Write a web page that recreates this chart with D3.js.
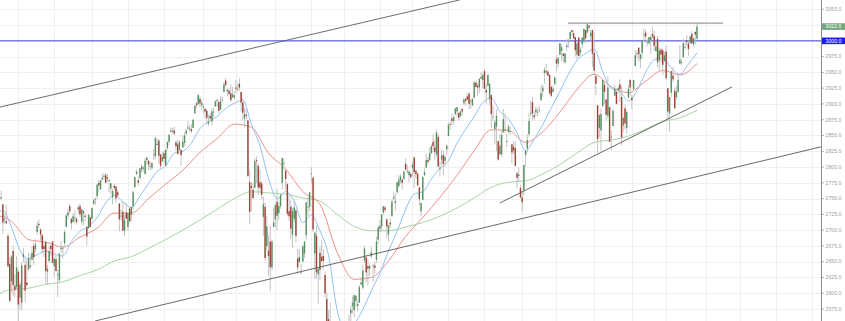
<!DOCTYPE html>
<html>
<head>
<meta charset="utf-8">
<script src="https://cdn.jsdelivr.net/npm/d3@7"></script>
<style>
  body { margin: 0; background: #fff; }
  svg { display: block; }
</style>
</head>
<body>
<svg id="chart"></svg>
<script>
    // daily candles, one small array per month: [open, high, low, close]
    var mar2018 = [[2792,2801,2758,2765],[2774,2777,2744,2750],[2754,2763,2741,2747],[2750,2762,2749,2752],[2741,2741,2694,2712],[2716,2725,2710,2717],[2714,2739,2709,2711],[2691,2695,2641,2643],[2646,2657,2585,2588],[2619,2661,2601,2658],[2667,2675,2596,2613],[2612,2630,2594,2605],[2610,2659,2606,2641]]
    var apr2018 = [[2634,2638,2553,2582],[2593,2619,2575,2614],[2585,2649,2573,2644],[2657,2672,2649,2662],[2645,2656,2586,2604],[2617,2653,2610,2613],[2638,2665,2635,2656],[2644,2662,2639,2642],[2653,2674,2653,2664],[2675,2680,2645,2657],[2670,2686,2665,2677],[2697,2713,2693,2707],[2710,2717,2703,2708],[2701,2703,2684,2693],[2692,2694,2663,2670],[2675,2683,2657,2670],[2681,2683,2615,2635],[2634,2645,2613,2639],[2651,2676,2648,2667],[2675,2677,2659,2670],[2682,2682,2648,2648]]
    var may2018 = [[2643,2655,2625,2655],[2654,2661,2635,2635],[2628,2637,2594,2630],[2621,2664,2616,2663],[2670,2683,2664,2672],[2671,2676,2655,2672],[2679,2701,2675,2697],[2705,2726,2705,2723],[2723,2733,2717,2728],[2738,2742,2726,2730],[2718,2719,2701,2711],[2713,2727,2712,2722],[2719,2731,2711,2720],[2718,2720,2709,2713],[2736,2740,2726,2733],[2738,2742,2721,2725],[2713,2734,2709,2733],[2730,2731,2707,2727],[2723,2727,2714,2721],[2705,2707,2676,2690],[2703,2726,2702,2724],[2720,2723,2704,2705]]
    var jun2018 = [[2718,2736,2718,2735],[2742,2750,2740,2747],[2748,2752,2740,2749],[2754,2773,2749,2772],[2775,2779,2760,2771],[2765,2779,2764,2779],[2780,2790,2780,2783],[2785,2790,2780,2786],[2787,2791,2774,2775],[2784,2789,2776,2782],[2778,2780,2760,2780],[2766,2775,2757,2774],[2752,2765,2741,2762],[2770,2774,2763,2767],[2769,2770,2744,2750],[2760,2764,2752,2755],[2742,2743,2698,2717],[2722,2733,2716,2723],[2729,2746,2699,2699],[2699,2724,2691,2716],[2728,2743,2718,2718]]
    var jul2018 = [[2705,2727,2699,2727],[2734,2736,2713,2714],[2724,2737,2714,2737],[2738,2763,2733,2760],[2768,2784,2768,2784],[2789,2796,2787,2793],[2779,2785,2770,2775],[2783,2799,2781,2798],[2796,2804,2791,2801],[2799,2801,2793,2798],[2789,2814,2788,2810],[2811,2816,2805,2815],[2810,2810,2795,2804],[2801,2808,2795,2802],[2799,2808,2795,2806],[2820,2829,2811,2820],[2817,2848,2812,2846],[2835,2845,2835,2837],[2842,2844,2805,2818],[2820,2821,2798,2802],[2809,2824,2808,2816]]
    var aug2018 = [[2822,2826,2805,2813],[2802,2829,2801,2827],[2830,2840,2827,2840],[2840,2853,2835,2851],[2856,2863,2855,2858],[2856,2862,2853,2857],[2858,2864,2851,2853],[2839,2842,2826,2833],[2836,2843,2819,2821],[2827,2843,2826,2840],[2827,2828,2802,2819],[2831,2850,2831,2840],[2838,2855,2833,2850],[2853,2860,2851,2858],[2861,2873,2859,2863],[2860,2867,2856,2861],[2860,2868,2854,2857],[2862,2876,2862,2875],[2885,2898,2885,2897],[2901,2903,2893,2898],[2900,2916,2898,2914],[2908,2912,2895,2901],[2898,2907,2891,2902]]
    var sep2018 = [[2896,2900,2885,2896],[2892,2894,2877,2888],[2889,2892,2867,2878],[2869,2883,2865,2872],[2881,2886,2873,2877],[2872,2893,2866,2888],[2888,2894,2879,2888],[2896,2906,2895,2904],[2906,2908,2896,2905],[2903,2905,2885,2889],[2891,2912,2890,2904],[2906,2912,2903,2907],[2919,2935,2919,2931],[2937,2941,2927,2930],[2922,2926,2912,2920],[2921,2924,2913,2916],[2917,2931,2903,2906],[2911,2927,2909,2915],[2910,2920,2907,2914]]
    var oct2018 = [[2926,2938,2917,2924],[2924,2932,2920,2924],[2932,2940,2921,2926],[2919,2919,2888,2902],[2902,2910,2874,2886],[2877,2894,2863,2884],[2883,2894,2875,2881],[2874,2875,2784,2786],[2776,2795,2710,2729],[2770,2776,2730,2767],[2764,2775,2749,2751],[2767,2814,2767,2809],[2811,2817,2775,2809],[2802,2806,2756,2768],[2776,2797,2760,2767],[2774,2778,2749,2756],[2721,2753,2691,2741],[2737,2743,2651,2656],[2675,2722,2667,2706],[2667,2692,2628,2659],[2682,2707,2603,2641],[2641,2685,2636,2682],[2705,2736,2705,2712]]
    var nov2018 = [[2717,2741,2705,2740],[2745,2766,2700,2723],[2727,2744,2716,2738],[2738,2757,2734,2756],[2775,2815,2765,2814],[2806,2814,2795,2806],[2794,2797,2764,2781],[2773,2776,2722,2726],[2730,2755,2714,2722],[2737,2747,2686,2702],[2693,2735,2671,2730],[2718,2746,2712,2736],[2731,2733,2681,2691],[2655,2670,2631,2641],[2657,2670,2649,2650],[2633,2647,2631,2633],[2650,2677,2650,2674],[2663,2683,2656,2682],[2692,2744,2685,2744],[2736,2753,2723,2737],[2737,2760,2730,2760]]
    var dec2018 = [[2790,2800,2774,2790],[2783,2785,2697,2701],[2663,2696,2622,2696],[2691,2708,2623,2633],[2630,2640,2583,2638],[2664,2674,2621,2637],[2658,2685,2650,2651],[2659,2670,2637,2651],[2629,2635,2593,2600],[2591,2601,2530,2546],[2559,2573,2528,2546],[2547,2585,2488,2507],[2497,2510,2441,2467],[2466,2504,2409,2417],[2401,2410,2351,2351],[2363,2467,2347,2468],[2442,2489,2398,2489],[2499,2520,2473,2486],[2498,2509,2483,2507]]
    var jan2019 = [[2477,2519,2468,2510],[2492,2493,2444,2448],[2475,2538,2474,2532],[2535,2566,2525,2550],[2568,2580,2548,2574],[2580,2595,2568,2585],[2573,2597,2562,2597],[2588,2597,2578,2596],[2580,2589,2571,2583],[2585,2613,2585,2610],[2614,2625,2613,2617],[2609,2645,2606,2636],[2652,2675,2648,2671],[2657,2657,2617,2633],[2643,2653,2612,2639],[2639,2647,2627,2643],[2658,2673,2657,2665],[2645,2645,2618,2644],[2644,2650,2631,2640],[2653,2690,2648,2682],[2685,2708,2678,2704]]
    var feb2019 = [[2702,2716,2697,2707],[2706,2724,2698,2725],[2728,2738,2724,2738],[2736,2739,2728,2732],[2717,2719,2687,2706],[2693,2708,2682,2708],[2712,2719,2703,2709],[2722,2749,2722,2745],[2750,2761,2748,2753],[2743,2758,2731,2746],[2760,2775,2757,2776],[2770,2787,2767,2780],[2779,2789,2774,2785],[2780,2781,2764,2775],[2781,2793,2780,2793],[2805,2814,2794,2796],[2793,2803,2789,2794],[2787,2796,2776,2793],[2789,2792,2781,2784]]
    var mar2019 = [[2799,2809,2785,2804],[2815,2817,2767,2792],[2794,2796,2782,2789],[2790,2790,2770,2771],[2768,2768,2739,2749],[2730,2744,2722,2743],[2748,2785,2747,2784],[2787,2798,2786,2792],[2799,2821,2799,2811],[2811,2816,2804,2808],[2811,2831,2810,2822],[2822,2836,2821,2833],[2840,2852,2823,2833],[2831,2843,2812,2824],[2820,2860,2817,2855],[2848,2852,2800,2801],[2797,2809,2785,2799],[2812,2829,2803,2818],[2819,2826,2787,2805],[2810,2820,2801,2816],[2828,2836,2820,2834]]
    var apr2019 = [[2849,2870,2849,2867],[2868,2872,2859,2867],[2877,2885,2866,2873],[2873,2882,2867,2879],[2884,2893,2882,2893],[2888,2895,2880,2895],[2886,2886,2873,2878],[2881,2889,2879,2888],[2892,2893,2882,2888],[2901,2910,2899,2907],[2908,2909,2897,2905],[2912,2917,2905,2907],[2916,2919,2892,2900],[2905,2908,2892,2905],[2898,2909,2896,2908],[2910,2936,2909,2934],[2934,2937,2926,2927],[2929,2933,2913,2926],[2926,2940,2917,2940],[2940,2950,2939,2943],[2938,2948,2925,2946]]
    var may2019 = [[2952,2955,2923,2924],[2922,2932,2900,2918],[2929,2947,2929,2946],[2908,2933,2898,2932],[2914,2914,2862,2884],[2880,2898,2873,2880],[2860,2875,2836,2871],[2864,2892,2825,2881],[2841,2841,2810,2812],[2820,2852,2820,2834],[2820,2858,2816,2851],[2855,2892,2855,2876],[2858,2885,2854,2860],[2841,2853,2831,2840],[2855,2868,2855,2864],[2856,2865,2851,2857],[2836,2836,2806,2823],[2832,2841,2820,2826],[2830,2841,2801,2802],[2790,2792,2766,2783],[2786,2799,2777,2788],[2767,2772,2750,2752]]
    var jun2019 = [[2752,2763,2729,2744],[2763,2804,2755,2803],[2819,2827,2801,2826],[2829,2852,2823,2843],[2852,2885,2848,2873],[2886,2905,2880,2886],[2903,2911,2875,2885],[2882,2888,2874,2879],[2887,2896,2881,2891],[2887,2894,2880,2887],[2889,2897,2887,2890],[2906,2930,2905,2917],[2920,2931,2911,2926],[2949,2958,2932,2954],[2952,2964,2946,2950],[2951,2954,2944,2945],[2946,2947,2914,2917],[2927,2929,2911,2913],[2919,2929,2918,2924],[2932,2943,2929,2942]]
    var jul2019 = [[2971,2977,2952,2964],[2964,2974,2958,2973],[2978,2996,2978,2996],[2984,2994,2968,2990],[2980,2980,2966,2976],[2966,2981,2964,2980],[2990,3003,2984,2993],[2999,3003,2989,3000],[3003,3014,3001,3014],[3017,3017,3008,3014],[3012,3016,3003,3004],[3006,3006,2975,2985],[2978,2998,2970,2996],[3005,3006,2975,2976],[2982,2990,2977,2986],[2995,3006,2988,3005],[2999,3019,2997,3019],[3017,3017,2996,3004],[3013,3028,3012,3026],[3024,3026,3015,3021],[3007,3017,3000,3013],[3017,3018,2958,2980]]
    var aug2019 = [[2981,3013,2945,2953],[2944,2946,2914,2932],[2898,2898,2822,2844],[2862,2884,2847,2882],[2858,2892,2825,2884],[2897,2939,2895,2938],[2930,2935,2900,2919],[2907,2907,2874,2883],[2881,2944,2877,2926],[2895,2895,2840,2840],[2847,2857,2826,2848],[2865,2893,2865,2889],[2913,2931,2913,2924],[2919,2924,2899,2900],[2922,2928,2917,2925],[2931,2939,2904,2923],[2911,2928,2834,2847],[2866,2879,2856,2878],[2893,2899,2860,2869],[2862,2890,2853,2887],[2910,2930,2910,2924],[2938,2940,2913,2926]]
    var sep2019 = [[2910,2914,2891,2906],[2924,2938,2921,2938],[2960,2985,2960,2977],[2980,2985,2973,2979],[2989,2990,2967,2979],[2971,2979,2957,2979],[2981,3001,2972,3001],[3010,3020,3000,3010],[3013,3018,3002,3007],[2997,3003,2991,2998],[2996,3006,2994,3006],[3001,3008,2979,3006],[3011,3022,3004,3007],[3008,3016,2984,2992],[2984,2999,2983,2991],[3003,3008,2958,2966],[2969,2989,2953,2985],[2986,2989,2965,2978],[2985,2988,2946,2962],[2968,2983,2967,2977]]
    var oct2019 = [[2983,2993,2938,2941],[2925,2925,2874,2888],[2885,2911,2856,2911],[2918,2953,2911,2952],[2945,2959,2935,2939],[2921,2926,2892,2893],[2911,2929,2907,2919],[2919,2949,2918,2938],[2964,2993,2963,2970],[2966,2972,2962,2966],[2974,3003,2974,2996],[2990,2998,2986,2990],[3001,3009,2991,2998],[2996,3000,2976,2987],[2997,3008,2995,3007],[3011,3015,2995,2996],[2995,3004,2991,3004],[3014,3016,2994,3010],[3003.3,3027.4,3001.9,3022.6]]

    // moving averages (blue every 5 bars, red / green every 10 bars)
    var ema20 = [2726,2731,2705,2668,2655,2661,2667,2662,2659,2682,2698,2706,2720,2743,2755,2745,2736,2754,2774,2793,2802,2822,2825,2838,2861,2872,2880,2893,2901,2906,2868,2834,2782,2750,2761,2746,2712,2724,2699,2660,2574,2540,2551,2574,2604,2632,2667,2698,2733,2757,2761,2781,2798,2810,2838,2860,2880,2902,2909,2888,2876,2854,2826,2844,2867,2894,2920,2947,2969,2980,2987,2951,2925,2920,2905,2921,2950,2970,2973,2957,2947,2963,2981]
    var ema50 = [2724,2714,2685,2681,2673,2689,2703,2727,2727,2750,2773,2795,2823,2845,2868,2863,2822,2797,2761,2741,2665,2622,2625,2651,2690,2720,2752,2787,2826,2859,2858,2839,2856,2887,2923,2947,2927,2918,2936,2953,2946,2964]
    var ema200 = [2597,2606,2608,2614,2618,2628,2637,2651,2658,2671,2685,2700,2716,2733,2750,2761,2759,2757,2751,2746,2725,2706,2699,2699,2705,2712,2722,2735,2751,2768,2776,2778,2789,2804,2822,2839,2843,2849,2860,2872,2878,2890]

    // drawn lines as [bar index, price]
    var upperChannel = [[2.3, 2895], [270.7, 3065]]
    var lowerChannel = [[57.8, 2556], [481.3, 2832]]
    var supportLine = [[294, 2743], [429.4, 2927]]
    var resistance = [[333.7, 3028], [424.2, 3028]]
    var levelLine = 3000

    // first bar of each month (incl. future months on the right)
    var monthStarts = [13,34,56,77,98,121,140,163,184,203,224,243,264,285,307,327,349,371,391,414,434,455,476]
    var priceTicks = d3.range(2575, 3051, 25)

    var w = 845, h = 321
    var plotW = 821

    var candles = [].concat(mar2018, apr2018, may2018, jun2018, jul2018, aug2018, sep2018, oct2018, nov2018, dec2018,
        jan2019, feb2019, mar2019, apr2019, may2019, jun2019, jul2019, aug2019, sep2019, oct2019)
    var n = candles.length

    var x = d3.scaleLinear().domain([0, n - 1]).range([-4, 697])
    var y = d3.scaleLinear().domain([2575, 3050]).range([309, 9.3])
    var fmt = d3.format(".1f")

    var svg = d3.select("#chart").attr("width", w).attr("height", h)
        .style("font-family", "'Liberation Sans', Arial, sans-serif")

    svg.append("defs").append("clipPath").attr("id", "plot")
        .append("rect").attr("width", plotW).attr("height", h)

    // grid
    var grid = svg.append("g").attr("clip-path", "url(#plot)")
    grid.selectAll("line.h").data(priceTicks).join("line")
        .attr("class", "h")
        .attr("x1", 0).attr("x2", plotW)
        .attr("y1", function(d) { return Math.round(y(d)) + 0.5 })
        .attr("y2", function(d) { return Math.round(y(d)) + 0.5 })
        .attr("stroke", "#f0f0f0")
    grid.selectAll("line.v").data(monthStarts).join("line")
        .attr("class", "v")
        .attr("x1", function(d) { return Math.round(x(d)) + 0.5 })
        .attr("x2", function(d) { return Math.round(x(d)) + 0.5 })
        .attr("y1", 0).attr("y2", h)
        .attr("stroke", "#f0f0f0")

    var chart = svg.append("g").attr("clip-path", "url(#plot)")

    // level line at 3000
    chart.append("line")
        .attr("x1", 0).attr("x2", plotW)
        .attr("y1", y(levelLine)).attr("y2", y(levelLine))
        .attr("stroke", "#4040e6").attr("stroke-width", 1)

    // moving averages
    var idx20 = [0].concat(d3.range(4, n, 5))
    var idx10 = [0].concat(d3.range(9, n, 10))
    var maLine = d3.line()
        .x(function(d) { return x(d[0]) })
        .y(function(d) { return y(d[1]) })
        .curve(d3.curveMonotoneX)

    var mas = [
        {pts: idx10.map(function(i, k) { return [i, ema200[k]] }), color: "#a6d6a2"},
        {pts: idx10.map(function(i, k) { return [i, ema50[k]] }), color: "#ee9089"},
        {pts: idx20.map(function(i, k) { return [i, ema20[k]] }), color: "#93c1f2"}
    ]
    chart.selectAll("path.ma").data(mas).join("path")
        .attr("class", "ma")
        .attr("d", function(d) { return maLine(d.pts) })
        .attr("fill", "none")
        .attr("stroke", function(d) { return d.color })
        .attr("stroke-width", 1)

    // candles
    var bars = chart.selectAll("g.bar").data(candles).join("g").attr("class", "bar")
    bars.append("line")
        .attr("x1", function(d, i) { return x(i) })
        .attr("x2", function(d, i) { return x(i) })
        .attr("y1", function(d) { return y(d[1]) })
        .attr("y2", function(d) { return y(d[2]) })
        .attr("stroke", "#bdbdbd")
        .attr("stroke-width", 0.9)
    bars.append("rect")
        .attr("x", function(d, i) { return x(i) - 0.7 })
        .attr("width", 1.4)
        .attr("y", function(d) { return y(Math.max(d[0], d[3])) })
        .attr("height", function(d) { return Math.max(0.8, Math.abs(y(d[0]) - y(d[3]))) })
        .attr("fill", function(d) { return d[3] >= d[0] ? "#56905f" : "#9e4234" })

    // hand drawn trend lines
    var tl = d3.line().x(function(d) { return x(d[0]) }).y(function(d) { return y(d[1]) })
    var drawn = [
        {pts: upperChannel, color: "#5c5c5c", sw: 0.9},
        {pts: lowerChannel, color: "#585858", sw: 0.9},
        {pts: supportLine, color: "#585858", sw: 0.9},
        {pts: resistance, color: "#9c9c9c", sw: 1.2}
    ]
    chart.selectAll("path.tl").data(drawn).join("path")
        .attr("class", "tl")
        .attr("d", function(d) { return tl(d.pts) })
        .attr("fill", "none")
        .attr("stroke", function(d) { return d.color })
        .attr("stroke-width", function(d) { return d.sw })

    // price axis
    var last = candles[n - 1][3]
    var axis = svg.append("g")
    axis.append("line")
        .attr("x1", plotW + 0.5).attr("x2", plotW + 0.5)
        .attr("y1", 0).attr("y2", h)
        .attr("stroke", "#8a8a8a")
    var shown = priceTicks.filter(function(v) {
        return Math.abs(y(v) - y(last)) > 6 && Math.abs(y(v) - y(levelLine)) > 6
    })
    axis.selectAll("line.tick").data(priceTicks).join("line")
        .attr("class", "tick")
        .attr("x1", plotW + 1).attr("x2", plotW + 3)
        .attr("y1", function(d) { return y(d) }).attr("y2", function(d) { return y(d) })
        .attr("stroke", "#a0a0a0").attr("stroke-width", 0.8)
    axis.selectAll("text.tick").data(shown).join("text")
        .attr("class", "tick")
        .attr("x", plotW + 4.5)
        .attr("y", function(d) { return y(d) })
        .attr("dy", "0.35em")
        .attr("font-size", 5.2)
        .attr("fill", "#a0a0a0")
        .text(fmt)

    var labels = [
        {v: last, bg: "#72a67c"},
        {v: levelLine, bg: "#1c1cf2"}
    ]
    var lab = axis.selectAll("g.lab").data(labels).join("g").attr("class", "lab")
    lab.append("rect")
        .attr("x", plotW + 1).attr("width", 23)
        .attr("y", function(d) { return y(d.v) - 3.3 }).attr("height", 6.6)
        .attr("fill", function(d) { return d.bg })
    lab.append("text")
        .attr("x", plotW + 4.5)
        .attr("y", function(d) { return y(d.v) })
        .attr("dy", "0.35em")
        .attr("font-size", 5.2)
        .attr("fill", "#fff")
        .text(function(d) { return fmt(d.v) })
</script>
</body>
</html>
